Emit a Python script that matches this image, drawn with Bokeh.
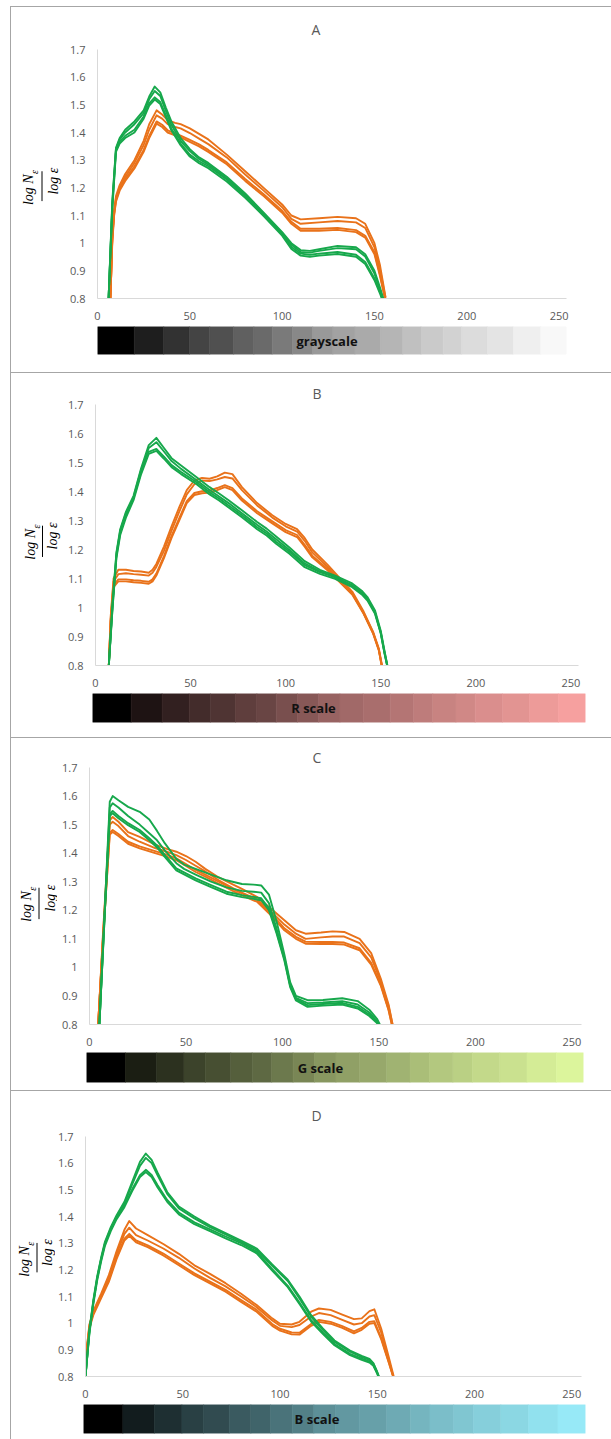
from math import pi
from bokeh.plotting import figure
from bokeh.layouts import column, row
from bokeh.models import Range1d, FixedTicker, NumeralTickFormatter, Div, Spacer
from bokeh.core.properties import value
from bokeh.embed import file_html
from bokeh.resources import INLINE

# ---------------- data ----------------
X_TICKS = [0, 50, 100, 150, 200, 250]
Y_TICKS = [0.8, 0.9, 1.0, 1.1, 1.2, 1.3, 1.4, 1.5, 1.6, 1.7]
PANEL_TITLES = ["A", "B", "C", "D"]
SCALE_NAMES = ["grayscale", "R scale", "G scale", "B scale"]
BAND_EDGES = [0, 20, 36, 50, 61, 74, 85, 95, 106, 117, 128, 140, 154, 166, 176, 188, 198, 212, 226, 241, 255]
BAND_LEVELS = [0, 30, 50, 68, 80, 96, 106, 122, 136, 153, 162, 170, 181, 192, 202, 210, 220, 228, 239, 248]
SCALE_END_RGB = [(255, 255, 255), (253, 165, 163), (226, 252, 160), (155, 240, 254)]

# Panel A
XA_G = [6, 8, 10, 12, 15, 20, 25, 28, 31, 34, 37, 40, 45, 50, 55, 60, 70, 80, 90, 100, 105, 110, 115, 120, 130, 140, 145, 150, 153, 155]
GA1 = [0.80, 1.12, 1.33, 1.36, 1.38, 1.40, 1.45, 1.497, 1.519, 1.503, 1.456, 1.408, 1.354, 1.313, 1.289, 1.271, 1.223, 1.164, 1.098, 1.027, 0.979, 0.955, 0.951, 0.955, 0.961, 0.951, 0.925, 0.866, 0.818, 0.78]
GA2 = [0.80, 1.13, 1.335, 1.367, 1.388, 1.41, 1.458, 1.505, 1.527, 1.51, 1.463, 1.414, 1.36, 1.32, 1.296, 1.278, 1.23, 1.17, 1.104, 1.034, 0.986, 0.962, 0.958, 0.962, 0.968, 0.958, 0.932, 0.872, 0.824, 0.785]
GA3 = [0.80, 1.14, 1.34, 1.375, 1.40, 1.43, 1.47, 1.52, 1.55, 1.532, 1.478, 1.428, 1.37, 1.333, 1.304, 1.284, 1.234, 1.175, 1.107, 1.037, 0.994, 0.968, 0.966, 0.972, 0.982, 0.978, 0.952, 0.89, 0.832, 0.79]
GA4 = [0.80, 1.15, 1.345, 1.38, 1.41, 1.44, 1.48, 1.53, 1.566, 1.545, 1.49, 1.44, 1.38, 1.34, 1.31, 1.29, 1.24, 1.18, 1.11, 1.04, 1.0, 0.975, 0.972, 0.978, 0.99, 0.985, 0.96, 0.90, 0.84, 0.795]
XA_O = [7, 8, 9, 10, 12, 15, 20, 25, 28, 32, 35, 38, 42, 45, 50, 55, 60, 70, 80, 90, 100, 105, 110, 120, 130, 140, 145, 150, 153, 156]
OA1 = [0.80, 1.0, 1.1, 1.15, 1.19, 1.225, 1.27, 1.33, 1.38, 1.432, 1.42, 1.40, 1.39, 1.382, 1.366, 1.35, 1.33, 1.285, 1.225, 1.17, 1.11, 1.07, 1.045, 1.045, 1.048, 1.04, 1.02, 0.96, 0.88, 0.79]
OA2 = [0.80, 1.01, 1.105, 1.155, 1.197, 1.232, 1.278, 1.337, 1.388, 1.44, 1.428, 1.408, 1.397, 1.389, 1.373, 1.357, 1.337, 1.292, 1.232, 1.177, 1.117, 1.077, 1.052, 1.052, 1.055, 1.047, 1.027, 0.967, 0.887, 0.795]
OA3 = [0.80, 1.015, 1.11, 1.16, 1.20, 1.24, 1.29, 1.355, 1.41, 1.462, 1.45, 1.43, 1.42, 1.415, 1.398, 1.378, 1.358, 1.31, 1.248, 1.19, 1.13, 1.088, 1.07, 1.075, 1.08, 1.075, 1.055, 0.985, 0.905, 0.80]
OA4 = [0.80, 1.02, 1.12, 1.17, 1.21, 1.25, 1.30, 1.37, 1.43, 1.48, 1.465, 1.445, 1.435, 1.43, 1.415, 1.395, 1.375, 1.32, 1.26, 1.20, 1.14, 1.10, 1.086, 1.09, 1.095, 1.09, 1.07, 1.0, 0.92, 0.805]

# Panel B
XB_G = [7, 9, 11, 13, 16, 20, 24, 28, 32, 36, 40, 45, 53, 60, 65, 70, 77, 85, 90, 95, 102, 110, 118, 126, 135, 140, 143, 147, 150, 152, 154]
GB1 = [0.80, 1.0, 1.17, 1.25, 1.31, 1.37, 1.46, 1.53, 1.54, 1.513, 1.484, 1.46, 1.426, 1.39, 1.369, 1.345, 1.311, 1.27, 1.248, 1.22, 1.185, 1.139, 1.116, 1.099, 1.07, 1.045, 1.024, 0.978, 0.91, 0.84, 0.78]
GB2 = [0.80, 1.005, 1.177, 1.257, 1.317, 1.377, 1.467, 1.537, 1.547, 1.52, 1.491, 1.467, 1.433, 1.397, 1.376, 1.352, 1.318, 1.277, 1.255, 1.227, 1.192, 1.146, 1.122, 1.105, 1.075, 1.05, 1.029, 0.982, 0.913, 0.843, 0.782]
GB3 = [0.80, 1.015, 1.185, 1.265, 1.325, 1.38, 1.475, 1.55, 1.57, 1.538, 1.505, 1.478, 1.44, 1.405, 1.383, 1.36, 1.325, 1.285, 1.262, 1.235, 1.198, 1.152, 1.125, 1.105, 1.077, 1.052, 1.03, 0.984, 0.915, 0.845, 0.782]
GB4 = [0.80, 1.02, 1.19, 1.27, 1.33, 1.385, 1.48, 1.56, 1.585, 1.55, 1.515, 1.49, 1.45, 1.415, 1.393, 1.37, 1.335, 1.295, 1.272, 1.245, 1.207, 1.16, 1.13, 1.11, 1.083, 1.058, 1.036, 0.99, 0.92, 0.85, 0.785]
XB_O = [7, 8, 9.5, 12, 16, 20, 24, 28, 30, 32, 36, 40, 44, 48, 52, 56, 60, 64, 68, 72, 77, 85, 93, 100, 106, 110, 114, 122, 128, 135, 141, 146, 149, 151]
OB1 = [0.80, 0.95, 1.07, 1.09, 1.09, 1.087, 1.085, 1.082, 1.09, 1.11, 1.17, 1.24, 1.30, 1.36, 1.388, 1.394, 1.396, 1.405, 1.415, 1.405, 1.369, 1.325, 1.29, 1.26, 1.243, 1.21, 1.173, 1.128, 1.09, 1.045, 0.978, 0.91, 0.852, 0.78]
OB2 = [0.80, 0.955, 1.077, 1.097, 1.097, 1.094, 1.092, 1.089, 1.097, 1.117, 1.177, 1.247, 1.307, 1.367, 1.395, 1.401, 1.403, 1.412, 1.422, 1.412, 1.376, 1.332, 1.297, 1.267, 1.25, 1.216, 1.179, 1.133, 1.094, 1.048, 0.98, 0.912, 0.854, 0.782]
OB3 = [0.80, 0.96, 1.09, 1.115, 1.118, 1.115, 1.113, 1.11, 1.12, 1.14, 1.195, 1.265, 1.33, 1.39, 1.425, 1.438, 1.436, 1.442, 1.45, 1.445, 1.405, 1.352, 1.31, 1.28, 1.262, 1.23, 1.19, 1.14, 1.098, 1.05, 0.982, 0.913, 0.855, 0.785]
OB4 = [0.80, 0.97, 1.10, 1.13, 1.13, 1.126, 1.124, 1.12, 1.13, 1.15, 1.21, 1.28, 1.345, 1.405, 1.438, 1.447, 1.444, 1.452, 1.465, 1.46, 1.415, 1.36, 1.318, 1.288, 1.27, 1.24, 1.20, 1.148, 1.105, 1.055, 0.986, 0.916, 0.858, 0.79]

# Panel C
XC_G = [5, 8, 10.5, 12, 15, 20, 26, 31, 35, 39, 45, 49, 55, 63, 71, 79, 85, 89, 93, 97, 101, 104, 107, 113, 121, 131, 139, 145, 149, 152]
GC1 = [0.78, 1.2, 1.53, 1.54, 1.522, 1.498, 1.474, 1.445, 1.42, 1.387, 1.34, 1.326, 1.305, 1.281, 1.258, 1.246, 1.24, 1.235, 1.2, 1.118, 1.024, 0.931, 0.884, 0.862, 0.866, 0.87, 0.856, 0.83, 0.805, 0.77]
GC2 = [0.78, 1.2, 1.537, 1.548, 1.53, 1.505, 1.481, 1.452, 1.427, 1.394, 1.347, 1.333, 1.312, 1.288, 1.265, 1.253, 1.247, 1.242, 1.207, 1.124, 1.029, 0.936, 0.889, 0.868, 0.872, 0.876, 0.862, 0.835, 0.809, 0.772]
GC3 = [0.78, 1.21, 1.56, 1.575, 1.56, 1.53, 1.50, 1.47, 1.445, 1.41, 1.365, 1.345, 1.325, 1.30, 1.28, 1.268, 1.265, 1.262, 1.225, 1.135, 1.035, 0.94, 0.893, 0.875, 0.877, 0.882, 0.87, 0.842, 0.812, 0.775]
GC4 = [0.78, 1.22, 1.58, 1.60, 1.585, 1.562, 1.545, 1.518, 1.478, 1.435, 1.38, 1.36, 1.345, 1.325, 1.305, 1.292, 1.29, 1.287, 1.255, 1.16, 1.045, 0.948, 0.90, 0.885, 0.886, 0.892, 0.882, 0.852, 0.82, 0.78]
XC_O = [4.5, 7, 10.5, 12, 15, 20, 26, 34, 40, 45, 50, 55, 60, 67, 75, 79, 87, 95, 101, 107, 112, 120, 126, 132, 140, 146, 151, 155, 158]
OC1 = [0.80, 1.1, 1.465, 1.474, 1.46, 1.433, 1.417, 1.40, 1.388, 1.375, 1.355, 1.334, 1.318, 1.293, 1.265, 1.252, 1.229, 1.176, 1.13, 1.10, 1.083, 1.082, 1.082, 1.08, 1.06, 1.01, 0.935, 0.85, 0.76]
OC2 = [0.80, 1.1, 1.472, 1.481, 1.467, 1.44, 1.424, 1.407, 1.395, 1.382, 1.362, 1.341, 1.325, 1.30, 1.272, 1.259, 1.236, 1.183, 1.137, 1.107, 1.09, 1.089, 1.089, 1.087, 1.067, 1.016, 0.94, 0.853, 0.762]
OC3 = [0.80, 1.11, 1.50, 1.51, 1.495, 1.46, 1.44, 1.418, 1.405, 1.393, 1.376, 1.356, 1.336, 1.305, 1.275, 1.262, 1.237, 1.19, 1.15, 1.118, 1.10, 1.105, 1.108, 1.108, 1.085, 1.035, 0.95, 0.865, 0.77]
OC4 = [0.80, 1.12, 1.515, 1.527, 1.51, 1.474, 1.457, 1.43, 1.415, 1.405, 1.39, 1.37, 1.345, 1.315, 1.288, 1.275, 1.246, 1.20, 1.165, 1.13, 1.118, 1.122, 1.126, 1.124, 1.10, 1.05, 0.96, 0.87, 0.77]

# Panel D
XD_G = [0, 2, 4, 6, 8, 10, 13, 16, 20, 24, 28, 31, 34, 37, 42, 48, 56, 64, 72, 80, 88, 96, 104, 110, 116, 122, 128, 136, 142, 146, 148, 150, 152]
GD1 = [0.80, 0.96, 1.07, 1.16, 1.23, 1.29, 1.345, 1.39, 1.435, 1.495, 1.548, 1.567, 1.548, 1.51, 1.455, 1.408, 1.371, 1.345, 1.318, 1.293, 1.262, 1.197, 1.135, 1.072, 1.006, 0.96, 0.917, 0.88, 0.862, 0.852, 0.84, 0.81, 0.77]
GD2 = [0.80, 0.965, 1.077, 1.167, 1.237, 1.297, 1.352, 1.397, 1.442, 1.502, 1.555, 1.575, 1.556, 1.518, 1.462, 1.415, 1.378, 1.352, 1.325, 1.30, 1.268, 1.203, 1.14, 1.077, 1.011, 0.965, 0.922, 0.885, 0.867, 0.857, 0.844, 0.813, 0.772]
GD3 = [0.80, 0.97, 1.08, 1.17, 1.24, 1.30, 1.355, 1.40, 1.45, 1.52, 1.59, 1.62, 1.60, 1.555, 1.485, 1.43, 1.393, 1.36, 1.333, 1.305, 1.275, 1.215, 1.158, 1.093, 1.024, 0.975, 0.93, 0.893, 0.873, 0.862, 0.848, 0.815, 0.775]
GD4 = [0.80, 0.975, 1.085, 1.175, 1.245, 1.305, 1.36, 1.405, 1.455, 1.53, 1.605, 1.636, 1.612, 1.565, 1.492, 1.437, 1.40, 1.366, 1.338, 1.31, 1.28, 1.22, 1.163, 1.10, 1.03, 0.98, 0.935, 0.897, 0.877, 0.866, 0.85, 0.817, 0.777]
XD_O = [0, 2, 4, 8, 12, 16, 20, 22.5, 26, 32, 40, 48, 56, 64, 72, 80, 88, 96, 100, 106, 110, 116, 120, 126, 132, 138, 142, 146, 148.5, 152, 156, 159]
OD1 = [0.85, 0.98, 1.03, 1.093, 1.155, 1.241, 1.31, 1.328, 1.303, 1.285, 1.254, 1.217, 1.18, 1.149, 1.118, 1.08, 1.043, 0.99, 0.972, 0.958, 0.957, 0.99, 1.005, 0.998, 0.982, 0.962, 0.975, 0.998, 1.0, 0.94, 0.85, 0.78]
OD2 = [0.85, 0.985, 1.037, 1.10, 1.162, 1.248, 1.317, 1.335, 1.31, 1.292, 1.261, 1.224, 1.187, 1.156, 1.125, 1.087, 1.05, 0.997, 0.979, 0.965, 0.964, 0.997, 1.012, 1.005, 0.989, 0.969, 0.982, 1.005, 1.007, 0.945, 0.853, 0.78]
OD3 = [0.86, 0.99, 1.04, 1.105, 1.17, 1.26, 1.335, 1.358, 1.33, 1.31, 1.28, 1.245, 1.205, 1.17, 1.138, 1.10, 1.06, 1.01, 0.99, 0.985, 0.993, 1.025, 1.038, 1.03, 1.012, 0.995, 1.0, 1.025, 1.03, 0.965, 0.86, 0.78]
OD4 = [0.86, 0.995, 1.045, 1.11, 1.18, 1.27, 1.35, 1.383, 1.355, 1.33, 1.297, 1.26, 1.217, 1.185, 1.15, 1.11, 1.068, 1.018, 0.998, 0.995, 1.005, 1.043, 1.055, 1.05, 1.032, 1.015, 1.018, 1.045, 1.052, 0.98, 0.87, 0.785]

# ---------------- styling / layout ----------------
GREEN = "#17a84c"
ORANGE = "#e9721a"
BORDER = "#a6a6a6"
TICK_FONT = "Open Sans"


def band_colors(end_rgb):
    return ["#%02x%02x%02x" % tuple(int(round(lv / 255.0 * c)) for c in end_rgb) for lv in BAND_LEVELS]


def plot_fig(title, xmax, w, h, mbl, mbr, mbt, mbb, t_off, t_stand, xg, greens, xo, oranges):
    p = figure(width=w, height=h, x_range=Range1d(0, xmax), y_range=Range1d(0.8, 1.7),
               output_backend="svg", toolbar_location=None, title=title,
               min_border_left=mbl, min_border_right=mbr, min_border_top=mbt, min_border_bottom=mbb)
    p.title.align = "left"
    p.title.offset = t_off
    p.title.standoff = t_stand
    p.title.text_font = TICK_FONT
    p.title.text_font_size = "14px"
    p.title.text_font_style = "normal"
    p.title.text_color = "#595959"
    p.outline_line_color = None
    p.grid.visible = False
    p.xaxis.ticker = FixedTicker(ticks=X_TICKS)
    p.yaxis.ticker = FixedTicker(ticks=Y_TICKS)
    p.yaxis.formatter = NumeralTickFormatter(format="0.[0]")
    for ax in list(p.xaxis) + list(p.yaxis):
        ax.axis_line_color = "#d9d9d9"
        ax.major_tick_line_color = None
        ax.minor_tick_line_color = None
        ax.major_tick_out = 0
        ax.major_tick_in = 0
        ax.minor_tick_out = 0
        ax.minor_tick_in = 0
        ax.major_label_text_font = TICK_FONT
        ax.major_label_text_font_size = "11px"
        ax.major_label_text_color = "#595959"
    p.yaxis.major_label_standoff = 12
    p.xaxis.major_label_standoff = 13
    for ys in oranges:
        p.line(xo, ys, line_color=ORANGE, line_width=1.9, line_join="round")
    for ys in greens:
        p.line(xg, ys, line_color=GREEN, line_width=1.9, line_join="round")
    return p


def label_fig(w, h, num_x, bar_x, den_x, yc):
    f = figure(width=w, height=h, x_range=Range1d(0, w), y_range=Range1d(0, h),
               output_backend="svg", toolbar_location=None, min_border=0,
               x_axis_location=None, y_axis_location=None, title_location=None)
    f.outline_line_color = None
    f.grid.visible = False
    yd = h - yc
    serif = value("Liberation Serif")
    f.text(x=[num_x], y=[yd + 12.5], text=["log N"], angle=pi / 2, text_align="right",
           text_baseline="middle", text_font=serif, text_font_style="italic",
           text_font_size="14px", text_color="#000000")
    f.text(x=[num_x + 6], y=[yd + 13], text=["\u03b5"], angle=pi / 2, text_align="left",
           text_baseline="middle", text_font=serif, text_font_style="italic",
           text_font_size="10px", text_color="#000000")
    f.segment(x0=[bar_x], y0=[yd - 21.5], x1=[bar_x], y1=[yd + 16.5], line_color="#000000", line_width=1)
    f.text(x=[den_x], y=[yd + 4], text=["log \u03b5"], angle=pi / 2, text_align="center",
           text_baseline="middle", text_font=serif, text_font_style="italic",
           text_font_size="14px", text_color="#000000")
    return f


def bar_fig(w, h, mbl, mbr, mbt, mbb, end_rgb, name, label_x):
    b = figure(width=w, height=h, x_range=Range1d(0, 255), y_range=Range1d(0, 1),
               output_backend="svg", toolbar_location=None,
               min_border_left=mbl, min_border_right=mbr, min_border_top=mbt, min_border_bottom=mbb,
               x_axis_location=None, y_axis_location=None, title_location=None)
    b.outline_line_color = None
    b.grid.visible = False
    cols = band_colors(end_rgb)
    b.quad(left=BAND_EDGES[:-1], right=BAND_EDGES[1:], bottom=0, top=1,
           fill_color=cols, line_color=cols, line_width=0.6)
    b.text(x=[label_x], y=[0.5], text=[name], text_font=value("Open Sans"), text_font_style="bold",
           text_font_size="13px", text_align="center", text_baseline="middle", text_color="#111111")
    return b


def hline():
    return Div(text="", width=600, height=1, margin=0, styles={"background-color": BORDER})


SPECS = [
    dict(labw=55, pw=545, ph=317, mbl=31, mbr=45, mbt=40, mbb=26, xmax=254, toff=214, tst=21,
         lab=(17, 30.5, 41.5, 171.5), bar=(48, 86, 45, 2, 18, 124.8),
         xg=XA_G, g=[GA1, GA2, GA3, GA4], xo=XA_O, o=[OA1, OA2, OA3, OA4]),
    dict(labw=50, pw=550, ph=317, mbl=34, mbr=33, mbt=31, mbb=25, xmax=254, toff=217, tst=4,
         lab=(19, 31, 41, 163.7), bar=(47, 81, 26, 3, 15, 114.3),
         xg=XB_G, g=[GB1, GB2, GB3, GB4], xo=XB_O, o=[OB1, OB2, OB3, OB4]),
    dict(labw=46, pw=554, ph=311, mbl=32, mbr=30, mbt=29, mbb=25, xmax=255, toff=223, tst=2,
         lab=(15, 27.5, 38.5, 162), bar=(41, 75, 28, 3, 8, 120.0),
         xg=XC_G, g=[GC1, GC2, GC3, GC4], xo=XC_O, o=[OC1, OC2, OC3, OC4]),
    dict(labw=44, pw=556, ph=310, mbl=30, mbr=30, mbt=42, mbb=25, xmax=255, toff=226, tst=24,
         lab=(13, 25.5, 35.5, 154), bar=(38, 72, 26, 3, 6, 118.6),
         xg=XD_G, g=[GD1, GD2, GD3, GD4], xo=XD_O, o=[OD1, OD2, OD3, OD4]),
]

items = []
for i, s in enumerate(SPECS):
    p = plot_fig(PANEL_TITLES[i], s["xmax"], s["pw"], s["ph"], s["mbl"], s["mbr"], s["mbt"], s["mbb"],
                 s["toff"], s["tst"], s["xg"], s["g"], s["xo"], s["o"])
    lf = label_fig(s["labw"], s["ph"], *s["lab"])
    bh, bl, br, bt, bb, lx = s["bar"]
    bf = bar_fig(600, bh, bl, br, bt, bb, SCALE_END_RGB[i], SCALE_NAMES[i], lx)
    items.append(hline())
    items.append(column(row(lf, p, spacing=0), bf, spacing=0))

inner = column(*items, spacing=0)
vline = Div(text="", width=1, height=1433, margin=0, styles={"background-color": BORDER})
root = column(Spacer(width=611, height=6), row(Spacer(width=10, height=1433), vline, inner, spacing=0), spacing=0)

open("out.html", "w").write(file_html(root, INLINE))
